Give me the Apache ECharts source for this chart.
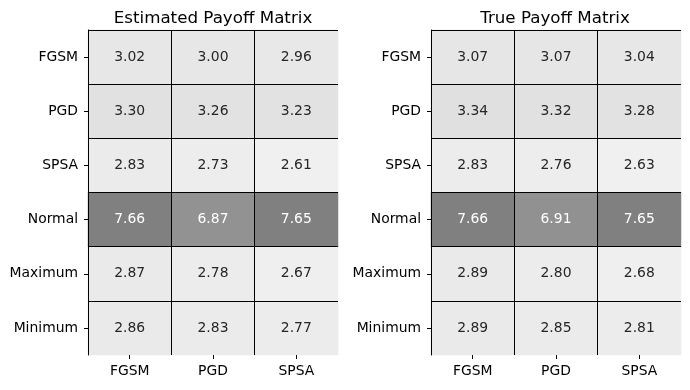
<!DOCTYPE html>
<html>
<head>
<meta charset="utf-8">
<script src="https://cdn.jsdelivr.net/npm/echarts@6/dist/echarts.min.js"></script>
<style>
	html, body { margin: 0; padding: 0; background: #fff; }
	#chart { width: 690px; height: 390px; }
</style>
</head>
<body>
<div id="chart"></div>
<script>
const rowNames = ['FGSM', 'PGD', 'SPSA', 'Normal', 'Maximum', 'Minimum']
const colNames = ['FGSM', 'PGD', 'SPSA']

const estimated = [
	[3.02, 3.00, 2.96],
	[3.30, 3.26, 3.23],
	[2.83, 2.73, 2.61],
	[7.66, 6.87, 7.65],
	[2.87, 2.78, 2.67],
	[2.86, 2.83, 2.77],
]
const trueVals = [
	[3.07, 3.07, 3.04],
	[3.34, 3.32, 3.28],
	[2.83, 2.76, 2.63],
	[7.66, 6.91, 7.65],
	[2.89, 2.80, 2.68],
	[2.89, 2.85, 2.81],
]

const font = 'DejaVu Sans'

// turn a matrix into heatmap cells [col, row, value]
const toCells = (m) => {
	const out = []
	m.forEach((row, r) => {
		row.forEach((v, c) => {
			out.push({
				value: [c, r, v],
				label: { color: v > 5 ? '#ffffff' : '#262626' },
			})
		})
	})
	return out
}

const flat = (m) => m.reduce((a, r) => a.concat(r), [])

const xAxisOf = (i) => ({
	type: 'category',
	gridIndex: i,
	data: colNames,
	axisLine: { show: false },
	axisTick: { show: true, alignWithLabel: true, length: 4, lineStyle: { color: '#000' } },
	axisLabel: { margin: 9, color: '#000', fontSize: 13.9, fontFamily: font },
	// no line on the right edge, like the reference
	splitLine: { show: true, showMinLine: true, showMaxLine: false, lineStyle: { color: '#000', width: 1 } },
	splitArea: { show: false },
	z: 5,
})

const yAxisOf = (i) => ({
	type: 'category',
	gridIndex: i,
	data: rowNames,
	inverse: true,
	axisLine: { show: true, lineStyle: { color: '#000', width: 1 } },
	axisTick: { show: true, alignWithLabel: true, length: 4, lineStyle: { color: '#000' } },
	axisLabel: { margin: 10, color: '#000', fontSize: 13.9, fontFamily: font },
	// no line on the bottom edge
	splitLine: { show: true, showMinLine: true, showMaxLine: false, lineStyle: { color: '#000', width: 1 } },
	splitArea: { show: false },
	z: 5,
})

const seriesOf = (i, m) => ({
	type: 'heatmap',
	xAxisIndex: i,
	yAxisIndex: i,
	data: toCells(m),
	itemStyle: { borderWidth: 0 },
	label: {
		show: true,
		fontSize: 13.9,
		fontFamily: font,
		formatter: (p) => p.value[2].toFixed(2),
	},
	emphasis: { disabled: true },
})

const titleStyle = { fontFamily: font, fontSize: 16.7, fontWeight: 'normal', color: '#000' }

const chart = echarts.init(document.getElementById('chart'), null, { renderer: 'canvas' })
chart.setOption({
	animation: false,
	backgroundColor: '#fff',
	title: [
		{ text: 'Estimated Payoff Matrix', left: 208, top: 5, textAlign: 'center', textStyle: titleStyle },
		{ text: 'True Payoff Matrix', left: 550, top: 5, textAlign: 'center', textStyle: titleStyle },
	],
	grid: [
		{ left: 88, top: 30, width: 250, height: 325 },
		{ left: 431, top: 30, width: 250, height: 325 },
	],
	xAxis: [xAxisOf(0), xAxisOf(1)],
	yAxis: [yAxisOf(0), yAxisOf(1)],
	visualMap: [
		{
			show: false,
			seriesIndex: 0,
			dimension: 2,
			min: Math.min(...flat(estimated)),
			max: Math.max(...flat(estimated)),
			inRange: { color: ['#f0f0f0', '#808080'] },
		},
		{
			show: false,
			seriesIndex: 1,
			dimension: 2,
			min: Math.min(...flat(trueVals)),
			max: Math.max(...flat(trueVals)),
			inRange: { color: ['#f0f0f0', '#808080'] },
		},
	],
	series: [seriesOf(0, estimated), seriesOf(1, trueVals)],
})
</script>
</body>
</html>
